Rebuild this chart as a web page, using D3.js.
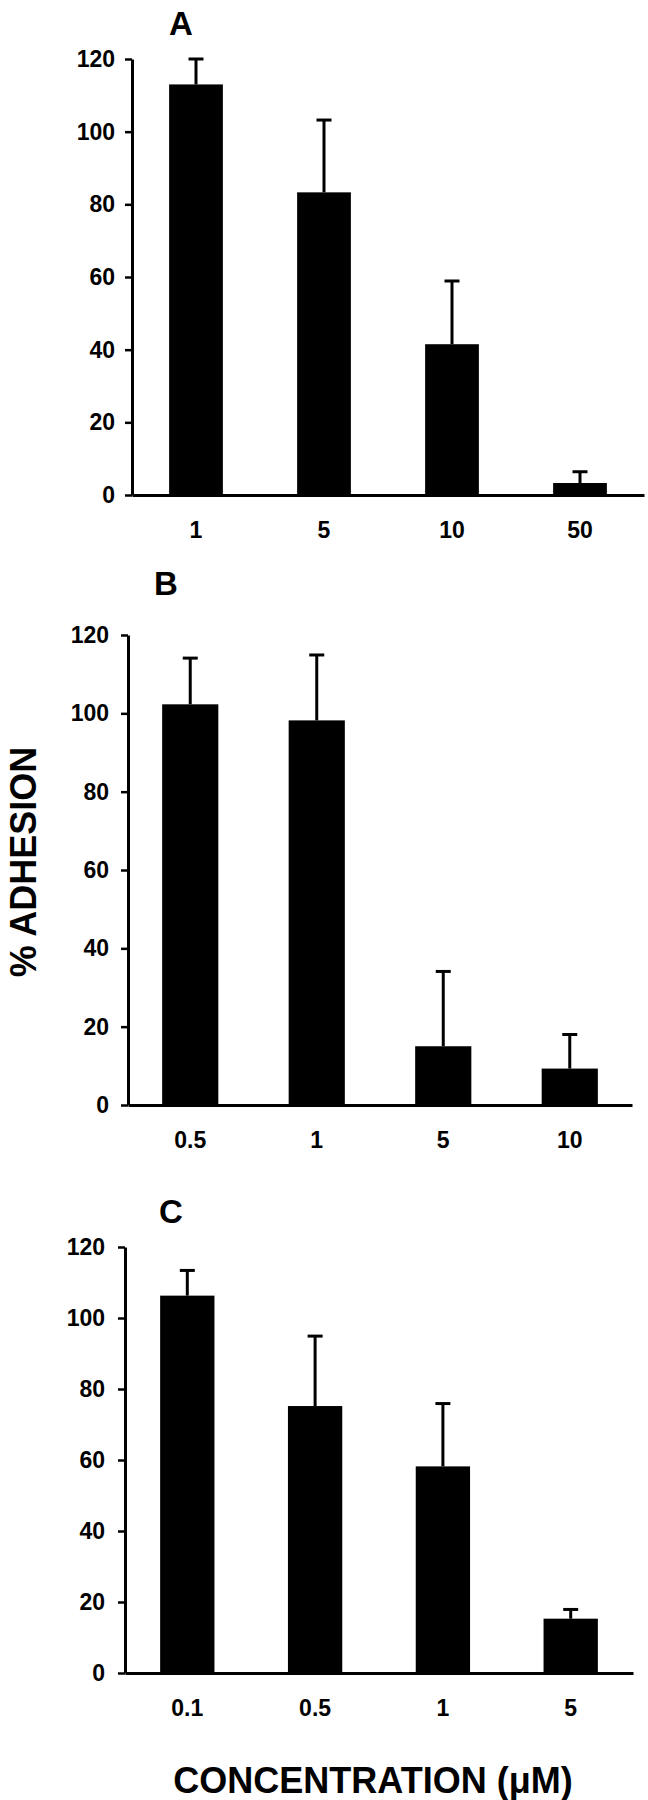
<!DOCTYPE html>
<html>
<head>
<meta charset="utf-8">
<script src="https://cdn.jsdelivr.net/npm/d3@7"></script>
<style>
  body { margin: 0; background: #fff; }
  svg text { font-family: "Liberation Sans", Arial, sans-serif; font-weight: bold; fill: #000; }
</style>
</head>
<body>
<svg width="648" height="1800"></svg>
<script>
// values: mean % adhesion and the upper error (SD)
const yTicks = [0, 20, 40, 60, 80, 100, 120];

const concA = ["1", "5", "10", "50"];
const meanA = [113, 83.3, 41.5, 3.3];
const sdA = [7, 19.9, 17.4, 3.1];

const concB = ["0.5", "1", "5", "10"];
const meanB = [102.3, 98.2, 15, 9.3];
const sdB = [11.8, 16.7, 19.1, 8.7];

const concC = ["0.1", "0.5", "1", "5"];
const meanC = [106.3, 75.2, 58.2, 15.3];
const sdC = [7.1, 19.7, 17.7, 2.6];

const svg = d3.select("svg");

svg.append("rect")
    .attr("width", 648)
    .attr("height", 1800)
    .attr("fill", "#fff");

// one panel = one little bar chart
function panel(letter, conc, mean, sd, lay) {
    const g = svg.append("g");

    const x = d3.scaleBand()
        .domain(conc)
        .range([lay.x0, lay.x1])
        .paddingInner(lay.pin)
        .paddingOuter(lay.pout);

    const y = d3.scaleLinear()
        .domain([0, 120])
        .range([lay.y0, lay.y120]);

    const rows = conc.map((c, i) => ({ c: c, m: mean[i], s: sd[i] }));

    // bars
    g.selectAll(".bar")
        .data(rows)
        .enter()
        .append("rect")
        .attr("class", "bar")
        .attr("x", d => x(d.c))
        .attr("width", x.bandwidth())
        .attr("y", d => y(d.m))
        .attr("height", d => y(0) - y(d.m))
        .attr("fill", "#000");

    // error bars, upper half only
    g.selectAll(".err")
        .data(rows)
        .enter()
        .append("line")
        .attr("x1", d => x(d.c) + x.bandwidth() / 2)
        .attr("x2", d => x(d.c) + x.bandwidth() / 2)
        .attr("y1", d => y(d.m))
        .attr("y2", d => y(d.m + d.s))
        .attr("stroke", "#000")
        .attr("stroke-width", 3);

    g.selectAll(".cap")
        .data(rows)
        .enter()
        .append("line")
        .attr("x1", d => x(d.c) + x.bandwidth() / 2 - 7.5)
        .attr("x2", d => x(d.c) + x.bandwidth() / 2 + 7.5)
        .attr("y1", d => y(d.m + d.s))
        .attr("y2", d => y(d.m + d.s))
        .attr("stroke", "#000")
        .attr("stroke-width", 3);

    // x axis
    const xa = g.append("g")
        .attr("transform", `translate(0, ${lay.y0})`)
        .call(d3.axisBottom(x).tickSize(0).tickSizeOuter(0).tickPadding(27));
    xa.select(".domain").attr("stroke-width", 3);
    xa.selectAll("text").style("font-size", "23px");

    // y axis
    const ya = g.append("g")
        .attr("transform", `translate(${lay.x0}, 0)`)
        .call(d3.axisLeft(y).tickValues(yTicks).tickSize(7).tickSizeOuter(0).tickPadding(lay.tpad));
    ya.select(".domain").attr("stroke-width", 3);
    ya.selectAll(".tick line").attr("stroke-width", 2.5);
    ya.selectAll("text").style("font-size", "23px");

    // panel letter
    g.append("text")
        .attr("x", lay.lx)
        .attr("y", lay.ly)
        .attr("text-anchor", "middle")
        .style("font-size", "33px")
        .text(letter);
}

panel("A", concA, meanA, sdA,
    { x0: 132, x1: 644, pin: 0.58, pout: 0.29, y0: 495, y120: 59, tpad: 10, lx: 181, ly: 35 });
panel("B", concB, meanB, sdB,
    { x0: 128, x1: 632, pin: 0.556, pout: 0.27, y0: 1105, y120: 635, tpad: 12, lx: 166, ly: 595 });
panel("C", concC, meanC, sdC,
    { x0: 125, x1: 633, pin: 0.575, pout: 0.275, y0: 1673, y120: 1247, tpad: 13, lx: 171, ly: 1223 });

// shared axis titles
svg.append("text")
    .attr("transform", "translate(36, 862) rotate(-90)")
    .attr("text-anchor", "middle")
    .style("font-size", "36px")
    .text("% ADHESION");

svg.append("text")
    .attr("x", 373)
    .attr("y", 1793)
    .attr("text-anchor", "middle")
    .style("font-size", "36px")
    .text("CONCENTRATION (\u03bcM)");
</script>
</body>
</html>
